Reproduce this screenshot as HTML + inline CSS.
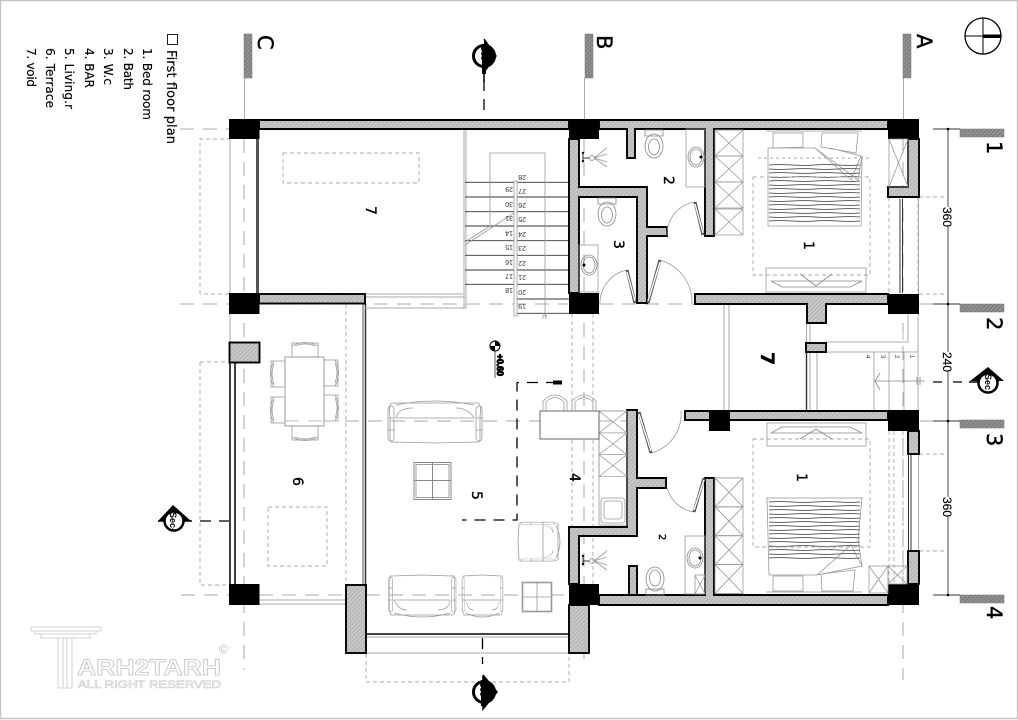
<!DOCTYPE html>
<html><head><meta charset="utf-8"><style>
html,body{margin:0;padding:0;background:#fff}
svg{display:block}
text{font-family:"DejaVu Sans","Liberation Sans",sans-serif;fill:#000}
.w{fill:url(#h);stroke:#000;stroke-width:1.9}
.k{fill:#000}
.b{fill:url(#hd);stroke:#777;stroke-width:.5}
.g{fill:none;stroke:#999;stroke-width:.8}
.g1{fill:none;stroke:#aaa;stroke-width:1}
.d{fill:none;stroke:#aaa;stroke-width:1;stroke-dasharray:14 9}
.t{fill:none;stroke:#aaa;stroke-width:.9;stroke-dasharray:4 3}
.kd{fill:none;stroke:#000;stroke-width:1.3;stroke-dasharray:11 8}
.n{font-size:14px;font-family:"DejaVu Sans",sans-serif;stroke:#000;stroke-width:.35}
.s{font-size:7px;font-family:"Liberation Sans",sans-serif;fill:#333}
.big{font-size:21px;font-family:"DejaVu Sans",sans-serif;stroke:#000;stroke-width:.4}
.l{font-size:12px;stroke:#000;stroke-width:.15}
.dim{font-size:12px;font-family:"Liberation Sans",sans-serif;stroke:#000;stroke-width:.2}
.lt{fill:none;stroke:#888;stroke-width:.8}
</style></head><body>
<svg width="1018" height="720" viewBox="0 0 1018 720" xmlns="http://www.w3.org/2000/svg">
<defs>
<pattern id="h" width="3" height="3" patternUnits="userSpaceOnUse" patternTransform="rotate(45)"><rect width="3" height="3" fill="#c8c8c8"/><rect width="1" height="3" fill="#b0b0b0"/></pattern>
<pattern id="hd" width="3" height="3" patternUnits="userSpaceOnUse" patternTransform="rotate(45)"><rect width="3" height="3" fill="#929292"/><rect width="1" height="3" fill="#777"/></pattern>
<g id="xbox"><rect width="28" height="26" class="g"/><path d="M0 0L28 26M28 0L0 26" class="g"/></g>
<g id="toilet"><rect x="-9" y="-17" width="18" height="6" class="lt"/><ellipse cx="0" cy="-1" rx="9" ry="12" class="lt"/><ellipse cx="0" cy="0" rx="5.5" ry="8" class="lt"/></g>
<g id="sink"><ellipse cx="0" cy="0" rx="8" ry="10" class="lt"/><ellipse cx="0" cy="0" rx="6" ry="8" class="lt"/><circle cx="5" cy="0" r="1.5" fill="#000"/></g>
<g id="shower"><circle cx="-9" cy="-5" r="1.2" fill="#000"/><circle cx="-9" cy="3" r="1.2" fill="#000"/><path d="M-9 -5V3M-9 0H-3" stroke="#333" fill="none"/><circle cx="0" cy="0" r="2.5" class="lt"/><path d="M2 0L15 -10M2 0L15 -4M2 0L15 4M2 0L15 9" class="g"/></g>
<g id="stripes"><path d="M0 0q10 -1 23 0t23 0t23 0t22 0M0 4q10 1 23 0t23 0t23 0t22 0M0 8q10 -1 23 0t23 0t23 0t22 0M0 12q10 1 23 0t23 0t23 0t22 0M0 16q10 -1 23 0t23 0t23 0t22 0M0 20q10 1 23 0t23 0t23 0t22 0M0 24q10 -1 23 0t23 0t23 0t22 0M0 28q10 1 23 0t23 0t23 0t22 0M0 32q10 -1 23 0t23 0t23 0t22 0M0 36q10 1 23 0t23 0t23 0t22 0M0 40q10 -1 23 0t23 0t23 0t22 0M0 44q10 1 23 0t23 0t23 0t22 0M0 48q10 -1 23 0t23 0t23 0t22 0M0 52q10 1 23 0t23 0t23 0t22 0M0 56q10 -1 23 0t23 0t23 0t22 0" fill="none" stroke="#666" stroke-width=".9"/></g>
<g id="sofa2"><path d="M2 16Q0 3 5 3H89Q94 3 92 16V39Q92 43 88 42L48 43L6 42Q2 43 2 39Z" class="g"/><path d="M8 5Q47 -3 86 5M8 18H86M8 18Q10 8 25 8M86 18Q80 8 68 8" class="g"/><rect x="0" y="6" width="6" height="35" rx="3" class="g"/><rect x="88" y="6" width="6" height="35" rx="3" class="g"/><path d="M0 18H6M0 30H6M88 18H94M88 30H94" class="g"/></g>
<g id="chair"><rect width="26" height="14" class="g"/><path d="M0 3Q13 -4 26 3M3 3Q13 -1 23 3" class="g"/></g>
</defs>
<rect width="1018" height="720" fill="#fff"/>
<path d="M0 .5H1017.5V718.5H.5V0" fill="none" stroke="#c4c4c4" stroke-width="1.4"/>

<!-- axes -->
<path class="g1" d="M244.500 78V119M584.500 78V119M903.500 78V119"/>
<path class="d" d="M244 139V670M584 139V660M903 139V680"/>
<path class="d" d="M180 129H229M180 304H229M259 304H568M599 304H695M919 304H960M345 421H627M181 595H229M259 595H346M366 595H568M920 421H960"/>
<path class="t" d="M572 314V527M593 314V584M346 304V585"/>
<path class="t" d="M200 294V139H229M229 294H200M200 362H229M200 362V585H229"/>
<rect x="283" y="153" width="136" height="30" class="t"/>
<rect x="268" y="507" width="59" height="59" class="t"/>
<path class="t" d="M366 654V682H569V654"/>

<!-- bars -->
<rect class="b" x="244" y="34" width="8" height="44"/>
<rect class="b" x="585" y="34" width="8" height="44"/>
<rect class="b" x="903" y="34" width="8" height="44"/>
<rect class="b" x="960" y="129" width="44" height="8"/>
<rect class="b" x="960" y="304" width="44" height="8"/>
<rect class="b" x="960" y="420" width="44" height="8"/>
<rect class="b" x="960" y="595" width="44" height="8"/>

<!-- axis letters -->
<text class="big" transform="translate(258,35) rotate(90)">C</text>
<text class="big" transform="translate(597,35) rotate(90)">B</text>
<text class="big" transform="translate(917,34) rotate(90)">A</text>
<text class="big" transform="translate(987,141) rotate(90)">1</text>
<text class="big" transform="translate(987,317) rotate(90)">2</text>
<text class="big" transform="translate(987,433) rotate(90)">3</text>
<text class="big" transform="translate(987,606) rotate(90)">4</text>

<!-- north -->
<circle cx="983" cy="36" r="18" fill="none" stroke="#000" stroke-width="1.3"/>
<path d="M965 36H983M983 18V54" stroke="#000" fill="none" stroke-width="1"/>
<rect x="983" y="34.500" width="18" height="3.500" fill="#000"/>

<!-- legend -->
<rect x="167.500" y="34.500" width="10" height="10" fill="none" stroke="#222"/>
<text class="l" style="font-size:13px" textLength="94" transform="translate(167,50) rotate(90)">First floor plan</text>
<text class="l" textLength="72" transform="translate(143,48) rotate(90)">1. Bed room</text>
<text class="l" textLength="42" transform="translate(124,48) rotate(90)">2. Bath</text>
<text class="l" textLength="37" transform="translate(104,48) rotate(90)">3. W.c</text>
<text class="l" textLength="40" transform="translate(85,48) rotate(90)">4. BAR</text>
<text class="l" textLength="61" transform="translate(65,48) rotate(90)">5. Living.r</text>
<text class="l" textLength="60" transform="translate(46,48) rotate(90)">6. Terrace</text>
<text class="l" textLength="39" transform="translate(27,48) rotate(90)">7. void</text>

<!-- dim line -->
<path d="M948 129V595M933 129H960M933 304H960M933 421H960M933 595H960" stroke="#333" fill="none" stroke-width=".9"/>
<circle cx="948" cy="129" r="1.300"/><circle cx="948" cy="304" r="1.300"/><circle cx="948" cy="421" r="1.300"/><circle cx="948" cy="595" r="1.300"/>
<path class="t" d="M919 197H948M919 294H948M919 454H948M919 551H948M889 197V294M918 197V294"/>
<rect x="942" y="207" width="11" height="20" fill="#fff"/><rect x="942" y="352" width="11" height="20" fill="#fff"/><rect x="942" y="497" width="11" height="20" fill="#fff"/>
<text class="dim" transform="translate(943,207) rotate(90)">360</text>
<text class="dim" transform="translate(943,352) rotate(90)">240</text>
<text class="dim" transform="translate(943,497) rotate(90)">360</text>

<!-- thin structure -->
<path class="g1" d="M230 139V293M230 314V342M259 304"/>
<path d="M257.500 139V293" stroke="#555" stroke-width="3" fill="none"/>
<path d="M230 362V584M235 362V584" stroke="#000" stroke-width="1.500" fill="none"/>
<path class="g1" d="M259 600H346M259 604H346"/>
<path d="M363 304V585" stroke="#555" stroke-width="1" fill="none"/><path d="M365.500 304V585" stroke="#333" stroke-width="1.500" fill="none"/>
<path class="g1" d="M365 294H463M365 297H465M365 308H465M464 129V309M466 129V309"/>
<path d="M366 634H569" stroke="#444" stroke-width="2" fill="none"/><path d="M366 637H569M366 653H569" class="g1"/>

<!-- stairs -->
<path d="M465 182.300H569M465 197H569M465 211.700H569M465 226H569M465 240.700H569M465 255.300H569M465 270H569M465 284.300H569M515 299H569M515 313.300H569" stroke="#333" stroke-width=".9" fill="none"/>
<rect x="514" y="181" width="3" height="135" fill="#fff" stroke="#999" stroke-width=".8"/>
<path class="g" d="M490 226V153H545V317M465 242L490 226M465 245L514 213M543 313V319M546 313V319"/>
<g class="s">
<text class="s" transform="translate(526,175) rotate(180)">28</text>
<text class="s" transform="translate(526,189) rotate(180)">27</text>
<text class="s" transform="translate(526,203) rotate(180)">26</text>
<text class="s" transform="translate(526,217) rotate(180)">25</text>
<text class="s" transform="translate(526,232) rotate(180)">24</text>
<text class="s" transform="translate(526,246) rotate(180)">23</text>
<text class="s" transform="translate(526,261) rotate(180)">22</text>
<text class="s" transform="translate(526,275) rotate(180)">21</text>
<text class="s" transform="translate(526,290) rotate(180)">20</text>
<text class="s" transform="translate(526,304) rotate(180)">19</text>
<text class="s" transform="translate(513,187) rotate(180)">29</text>
<text class="s" transform="translate(513,202) rotate(180)">30</text>
<text class="s" transform="translate(513,216) rotate(180)">31</text>
<text class="s" transform="translate(513,231) rotate(180)">14</text>
<text class="s" transform="translate(513,245) rotate(180)">15</text>
<text class="s" transform="translate(513,260) rotate(180)">16</text>
<text class="s" transform="translate(513,274) rotate(180)">17</text>
<text class="s" transform="translate(513,288) rotate(180)">18</text>
</g>

<!-- right stair -->
<path class="g1" d="M724 304V411M729 304V411"/>
<path d="M806.500 352V410" stroke="#333" stroke-width="1.400" fill="none"/><path d="M810 352V410M817 352V410M806.500 323V343M810 323V343" class="g1"/>
<path class="g" d="M826 342H908V314M817 352H918M874 352V410M889 352V410M904 352V410M918 314V410"/>
<path d="M903 331V340" stroke="#bbb" fill="none"/>
<path class="lt" d="M875 381H925M917 377V385M920 377V385M880 373L875 381L880 390"/>
<text class="s" style="font-size:6px" transform="translate(910,355) rotate(90)">1</text>
<text class="s" style="font-size:6px" transform="translate(895,355) rotate(90)">2</text>
<text class="s" style="font-size:6px" transform="translate(881,355) rotate(90)">3</text>
<text class="s" style="font-size:6px" transform="translate(866,355) rotate(90)">4</text>

<!-- windows -->
<path d="M900 199V293M902.500 199V293" stroke="#333" fill="none" stroke-width="1"/>
<path d="M908.500 454V551M911 454V551" stroke="#333" fill="none" stroke-width="1"/>
<path class="g1" d="M918.500 197V294M918.500 454V551"/>
<path class="t" d="M889 431V584M894 431V584M903 431V584"/>

<!-- walls -->
<path class="w" d="M259 120H569V129H259Z"/>
<path class="w" d="M599 120H888V129H714V236H705V129H635V158H627V129H599Z"/>
<path class="w" d="M569 139H579V187H647V227H667V236H647V303H637V197H579V293H569Z"/>
<path class="w" d="M695 294H888V304H826V323H807V304H695Z"/>
<rect class="w" x="806" y="343" width="20" height="9"/>
<path class="w" d="M908 139H919V197H888V187H908Z"/>
<path class="w" d="M685 411H888V420H685Z"/>
<rect class="w" x="908" y="431" width="11" height="23"/>
<rect class="w" x="908" y="551" width="11" height="33"/>
<path class="w" d="M599 595H705V478H714V595H888V605H599Z"/>
<path class="w" d="M627 410H637V478H666V488H637V536H579V584H569V527H627Z"/>
<path class="w" d="M629 566H637V595H629Z"/>
<rect class="w" x="569" y="605" width="20" height="48"/>
<rect class="w" x="346" y="585" width="20" height="68"/>
<rect class="w" x="229.500" y="342.500" width="30" height="20"/>
<rect class="w" x="259" y="294" width="106" height="9.500"/>

<!-- columns -->
<rect class="k" x="229" y="119" width="30.500" height="20"/>
<rect class="k" x="569" y="119" width="30" height="20"/>
<rect class="k" x="888" y="119" width="31" height="20"/>
<rect class="k" x="229" y="293" width="30.500" height="21"/>
<rect class="k" x="569" y="293" width="30" height="21"/>
<rect class="k" x="888" y="294" width="31" height="20"/>
<rect class="k" x="888" y="410" width="31" height="21"/>
<rect class="k" x="709" y="410" width="21" height="21"/>
<rect class="k" x="888" y="584" width="31" height="21"/>
<rect class="k" x="569" y="584" width="30" height="21"/>
<rect class="k" x="229" y="584" width="30.500" height="21"/>

<!-- wardrobes -->
<use href="#xbox" x="715" y="130"/><use href="#xbox" x="715" y="156"/><use href="#xbox" x="715" y="182"/><use href="#xbox" x="715" y="209"/>
<g transform="translate(715,478) scale(1,1.110)"><use href="#xbox"/><use href="#xbox" y="26"/><use href="#xbox" y="52"/><use href="#xbox" y="78"/></g>
<rect x="889" y="139" width="19" height="48" class="g"/><path d="M889 139L908 187M908 139L889 187" class="g"/>
<rect x="869" y="566" width="19" height="27" class="g"/><path d="M869 566L888 593M888 566L869 593" class="g"/>
<rect x="888" y="566" width="19" height="18" class="g"/><path d="M888 566L907 584M907 566L888 584" class="g"/>
<rect x="599" y="411" width="28" height="114" class="g"/>
<g transform="translate(599,411) scale(1,.84)"><use href="#xbox"/><use href="#xbox" y="26"/><use href="#xbox" y="52"/></g>
<rect x="601" y="498" width="24" height="25" rx="3" class="g"/><rect x="604" y="501" width="18" height="18" rx="3" class="g"/>

<!-- bed top -->
<path class="g" d="M766 131H862M768 148H815L858 180L862 156L861 226H768Z"/>
<path class="g" d="M773 133H803V147L773 148ZM822 133H858L856 153L821 147ZM815 148L851 180L861 156L830 148"/>
<path class="t" style="stroke-dasharray:3 3" d="M758 158H870"/>
<use href="#stripes" x="769" y="165"/>
<path d="M815 148L851 180L861 156L830 148L815 148L768 148L768 164L838 164Z" fill="#fff" fill-opacity="0"/>
<rect x="753" y="177" width="117" height="98" class="t"/>
<rect x="766" y="268" width="100" height="24" class="g"/>
<path class="lt" d="M771 281H862L850 287H782ZM800 274L816 286L832 274"/>
<!-- bed bottom -->
<path class="g" d="M767 498H862L858 540L862 566L817 575H769Z"/>
<path class="g" d="M766 498H863M773 576H803V591H773ZM821 574L855 570L853 591H822ZM817 575L851 545L862 566"/>
<use href="#stripes" x="769" y="502"/>
<path class="g1" d="M766 592H862M767 498H863"/>
<rect x="753" y="439" width="117" height="108" class="t"/>
<rect x="767" y="423" width="99" height="23" class="g"/>
<path class="lt" d="M771 433H862L850 427H782ZM800 439L816 429L832 439"/>

<!-- fixtures -->
<use href="#toilet" transform="translate(654,147)"/>
<use href="#toilet" transform="translate(607,215)"/>
<use href="#toilet" transform="translate(655,578) rotate(180)"/>
<rect x="686" y="129" width="19" height="58" class="g"/>
<rect x="579" y="245" width="19" height="47" class="g"/>
<rect x="685" y="536" width="20" height="58" class="g"/>
<rect x="695" y="575" width="10" height="19" class="g"/><path class="g" d="M695 575L705 594M705 575L695 594"/>
<use href="#sink" transform="translate(696,157)"/>
<use href="#sink" transform="translate(589,265) rotate(180)"/>
<use href="#sink" transform="translate(695,558)"/>
<use href="#shower" transform="translate(592,158)"/>
<use href="#shower" transform="translate(592,561)"/>

<!-- doors -->
<path class="g" d="M695 202A33 33 0 0 0 667 236M627 270A34 34 0 0 0 600 303M660 260A44 44 0 0 1 692 303M651 453A40 40 0 0 0 681 411M694 512A33 33 0 0 1 667 488"/>
<g stroke="#555" stroke-width="3" fill="none"><path d="M703 235L695 202M635 303L627 270M648 303L660 260M639 412L651 453M704 478L694 512"/></g>
<g stroke="#fff" stroke-width="1.400" fill="none"><path d="M703 233L695 204M635 301L627 272M648 301L660 262M639 414L651 451M704 480L694 510"/></g>

<!-- terrace furniture -->
<g transform="translate(292,343)"><use href="#chair"/></g>
<g transform="translate(318,440) rotate(180)"><use href="#chair"/></g>
<g transform="translate(271,387) rotate(-90)"><use href="#chair"/></g>
<g transform="translate(271,423) rotate(-90)"><use href="#chair"/></g>
<g transform="translate(338,360) rotate(90)"><use href="#chair"/></g>
<g transform="translate(338,395) rotate(90)"><use href="#chair"/></g>
<rect x="285" y="357" width="39" height="69" fill="#fff" stroke="#888" stroke-width=".8"/>
<path class="d" style="stroke-width:.8" d="M285 421H325"/>

<!-- living furniture -->
<use href="#sofa2" x="388" y="400"/>
<g transform="translate(456,618) scale(.72,1) rotate(180)"><use href="#sofa2"/></g>
<g transform="translate(503,618) scale(.436,1) rotate(180)"><use href="#sofa2"/></g>
<g transform="translate(561,522) rotate(90) scale(.42,1)"><use href="#sofa2"/></g>
<rect x="414" y="462.500" width="37" height="37" fill="#fff" stroke="#888" stroke-width="1"/><rect x="416" y="464.500" width="33" height="33" fill="none" stroke="#888" stroke-width=".8"/>
<path d="M432.500 463V499M414 480.500H451" stroke="#888" fill="none"/>
<rect x="522.500" y="582.500" width="29" height="29" fill="#fff" stroke="#999" stroke-width="1.600"/>
<path d="M537 583V611M523 597H551" stroke="#999" stroke-width=".8" fill="none"/>
<rect x="540" y="411" width="59" height="28" fill="#fff" stroke="#555" stroke-width=".9"/>
<path class="g" d="M543 411V401Q555 389 567 401V411M546 411V402Q555 393 564 402V411M572 411V401Q584 389 596 401V411M575 411V402Q584 393 593 402V411"/>
<path d="M557 382.500H517V520H462" class="kd"/>
<rect x="553" y="380.500" width="9" height="4" fill="#000"/>

<!-- numbers -->
<text class="n" transform="translate(366,206) rotate(90)">7</text>
<text class="n" transform="translate(664,176) rotate(90)">2</text>
<text class="n" transform="translate(614,240) rotate(90)">3</text>
<text class="n" transform="translate(804,241) rotate(90)">1</text>
<text class="n" style="font-size:19px;font-weight:bold" transform="translate(761,352) rotate(90)">7</text>
<text class="n" transform="translate(797,473) rotate(90)">1</text>
<text class="n" style="font-size:10px" transform="translate(659,534) rotate(90)">2</text>
<text class="n" transform="translate(293,477) rotate(90)">6</text>
<text class="n" transform="translate(472,491) rotate(90)">5</text>
<text class="n" transform="translate(570,473) rotate(90)">4</text>

<!-- sections -->
<path class="kd" d="M484 80V110"/>
<circle cx="484" cy="56" r="10.500" fill="#fff" stroke="#000" stroke-width="3"/>
<path d="M484 39L496 56L484 72V82" fill="#000" stroke="#000" stroke-width="1.500"/>
<path d="M484 44V74" stroke="#000" stroke-width="4"/>
<text style="font-size:8px;font-weight:bold;font-family:'Liberation Sans',sans-serif" transform="translate(481,46) rotate(90)">Sec</text>
<path class="kd" d="M482.500 638V664"/>
<circle cx="484" cy="692" r="10.500" fill="#fff" stroke="#000" stroke-width="3"/>
<path d="M483 675L497 692L483 709V675" fill="#000" stroke="#000" stroke-width="1.500"/>
<path d="M483 680V706" stroke="#000" stroke-width="4"/>
<text style="font-size:8px;font-weight:bold;font-family:'Liberation Sans',sans-serif" transform="translate(480,682) rotate(90)">Sec</text>
<path class="kd" d="M200 521H229"/>
<path d="M158 521L173 505L191 521Z" fill="#000"/><path d="M158 521H192" stroke="#000" stroke-width="1.500"/>
<circle cx="174" cy="521" r="9.500" fill="#fff" stroke="#000" stroke-width="2.500"/>
<text style="font-size:9px;font-weight:bold;font-family:'Liberation Sans',sans-serif" transform="translate(170,512) rotate(90)">Sec-</text>
<path d="M933 382H942M953 382H962" stroke="#000" stroke-width="1.200"/>
<path d="M970 381L988 367L1004 381Z" fill="#000"/><path d="M969 382H990" stroke="#000" stroke-width="1.500"/>
<circle cx="988" cy="383" r="9.500" fill="#fff" stroke="#000" stroke-width="2.500"/>
<text style="font-size:9px;font-weight:bold;font-family:'Liberation Sans',sans-serif" transform="translate(985,374) rotate(90)">Sec</text>

<!-- elevation -->
<path d="M495 340V378" stroke="#333" stroke-width=".8"/>
<circle cx="495" cy="346" r="5" fill="#fff" stroke="#000"/>
<path d="M495 346V341A5 5 0 0 1 500 346ZM495 346V351A5 5 0 0 1 490 346Z" fill="#000"/>
<text style="font-size:9px;font-weight:bold;font-family:'Liberation Sans',sans-serif;stroke:#000;stroke-width:1" textLength="22" transform="translate(497,354) rotate(90)">+0.60</text>

<!-- logo -->
<g fill="none" stroke="#d0d0d0" stroke-width="1">
<path d="M31 627H101V631H31ZM35 631H96V634H35ZM41 634H90V638H41ZM58 638V688H72V638M63 638V688M67 638V688"/>
</g>
<text textLength="144" lengthAdjust="spacingAndGlyphs" transform="translate(77,675)" style="font-size:22px;font-family:'Liberation Sans',sans-serif;font-weight:bold;fill:#fff;stroke:#ccc;stroke-width:.9">ARH2TARH</text>
<text textLength="143" lengthAdjust="spacingAndGlyphs" transform="translate(78,688)" style="font-size:11px;font-family:'Liberation Sans',sans-serif;fill:#fff;stroke:#ccc;stroke-width:.6">ALL RIGHT RESERVED</text>
<text transform="translate(219,653)" style="font-size:12px;font-family:'Liberation Sans',sans-serif;fill:#bbb">©</text>
</svg>
</body></html>
